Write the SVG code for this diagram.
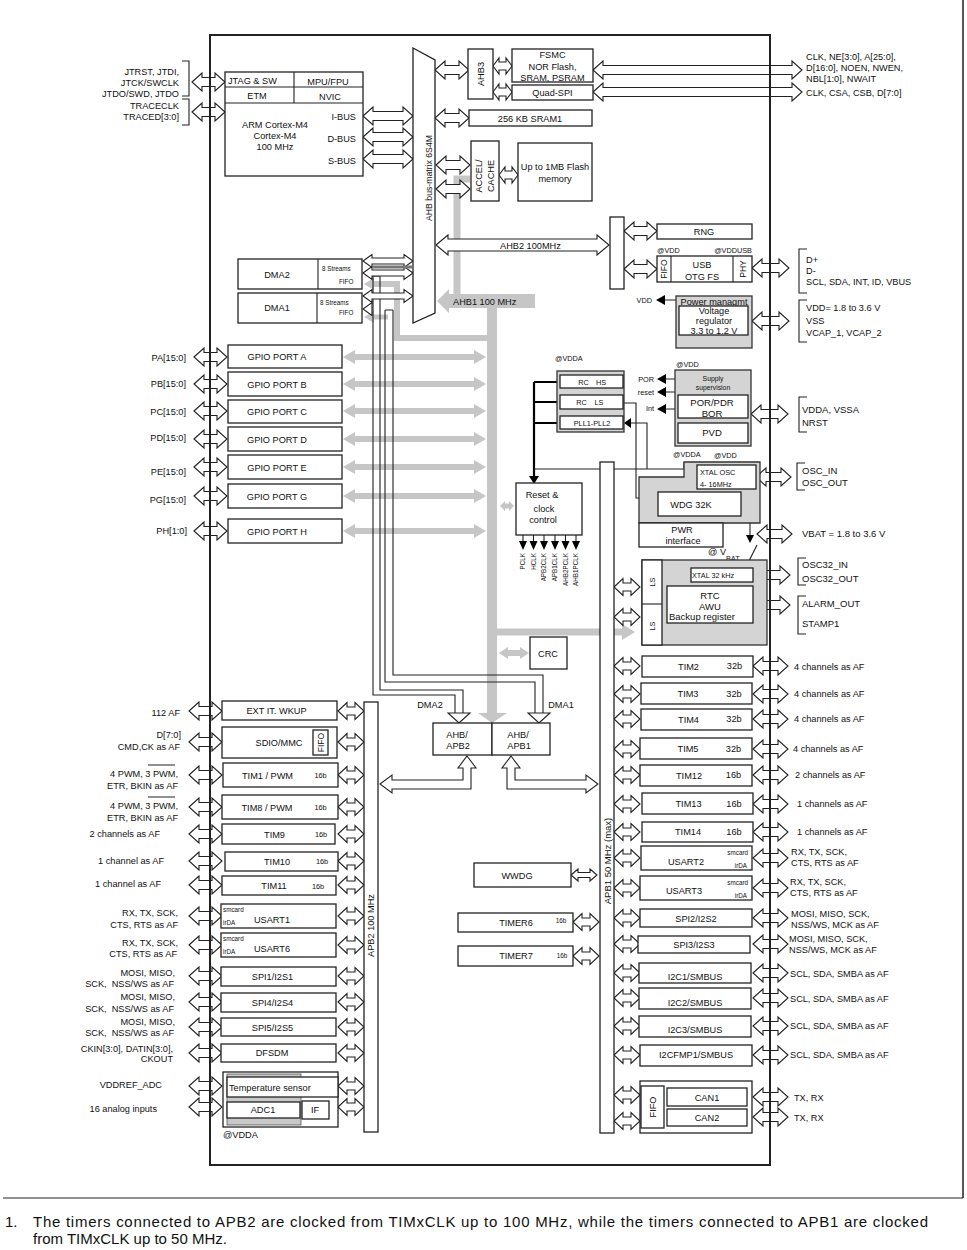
<svg xmlns="http://www.w3.org/2000/svg" width="967" height="1250" viewBox="0 0 967 1250">
<style>
text{font-family:"Liberation Sans",Arial,"DejaVu Sans",sans-serif;font-size:9.2px;fill:#111}
.c{text-anchor:middle}
.e{text-anchor:end}
.s{font-size:7.3px}
.xs{font-size:6.3px}
.f15{font-size:15px}
.b{fill:#fff;stroke:#222;stroke-width:1.3}
.g{fill:#d4d4d4;stroke:#333;stroke-width:1.3}
.da{fill:#fff;stroke:#222;stroke-width:1.1}
.gb{fill:#c6c6c6}
.gl{fill:none;stroke:#c6c6c6}
.ln{fill:none;stroke:#222;stroke-width:1.1}
.tk{fill:none;stroke:#000;stroke-width:2.2}
.ah{fill:#000}
</style>
<defs>
<path id="a33" d="M0 0L10-9V-4.5H23V-9L33 0L23 9V4.5H10V9Z"/>
<path id="a26" d="M0 0L9-8.5V-4H17V-8.5L26 0L17 8.5V4H9V8.5Z"/>
<path id="a35" d="M0 0L10-9V-4.5H25V-9L35 0L25 9V4.5H10V9Z"/>
<path id="a37" d="M0 0L10-9V-4.5H27V-9L37 0L27 9V4.5H10V9Z"/>
<path id="a50" d="M0 0L10-9V-4.5H40V-9L50 0L40 9V4.5H10V9Z"/>
<path id="a50s" d="M0 0L9-6.5V-3H41V-6.5L50 0L41 6.5V3H9V6.5Z"/>
<path id="a34" d="M0 0L10-9V-4.5H24V-9L34 0L24 9V4.5H10V9Z"/>
<path id="a19" d="M0 0L6-8V-4H13V-8L19 0L13 8V4H6V8Z"/>
<path id="a209" d="M0 0L10-9V-4.5H199V-9L209 0L199 9V4.5H10V9Z"/>
<path id="a26s" d="M0 0L7-6V-2.5H19V-6L26 0L19 6V2.5H7V6Z"/>
<path id="ag" d="M0 0L12-7V-3H131V-7L143 0L131 7V3H12V7Z"/>
<path id="ag30" d="M0 0L9-6V-3H21V-6L30 0L21 6V3H9V6Z"/>
<path id="ag14" d="M0 0L5-5V-2.5H9V-5L14 0L9 5V2.5H5V5Z"/>
</defs>
<rect width="967" height="1250" fill="#fff"/>

<g id="connectors">
<!-- gray buses -->
<path class="gb" d="M437 301L449 289V294H535V308H449V313Z"/>
<rect class="gb" x="487" y="306" width="10" height="407"/>
<path class="gb" d="M478 713H507L492 723Z"/>
<polyline class="gl" stroke-width="7" points="457,294 457,179 470,179"/>
<polyline class="gl" stroke-width="6" points="372,284 397,284 397,338 487,338"/>
<path class="gb" d="M364 284L374 278V290Z"/>
<polyline class="gl" stroke-width="5" points="372,317 388,317"/>
<path class="gb" d="M364 317L374 311V323Z"/>
<use href="#ag" class="gb" x="343" y="357"/>
<use href="#ag" class="gb" x="343" y="384"/>
<use href="#ag" class="gb" x="343" y="411"/>
<use href="#ag" class="gb" x="343" y="439"/>
<use href="#ag" class="gb" x="343" y="467"/>
<use href="#ag" class="gb" x="343" y="496"/>
<use href="#ag" class="gb" x="343" y="531"/>
<path class="gb" d="M497 628.5H622V624L635 632L622 640V635.5H497Z"/>
<use href="#ag30" class="gb" x="499" y="653"/>
<use href="#ag14" class="gb" x="500" y="506"/>

<!-- DMA paths to bridges -->
<path class="ln" d="M373 276V695H455V713M380 276V690H463V713M373 276H380"/>
<path class="da" d="M448 713H470L459 723Z"/>
<path class="ln" d="M385 310V682H535V713M393 310V675H543V713M385 310H393"/>
<path class="da" d="M528 713H550L539 723Z"/>

<!-- bridge to APB bus arrows -->
<path class="da" d="M467 756L476 768H471V789H392V793L380 784L392 775V780H463V768H458Z"/>
<path class="da" d="M511 756L520 768H515V780H586V775L598 784L586 793V789H507V768H502Z"/>

<!-- clock lines -->
<path class="tk" d="M534 382V477M534 382H560M534 402H560M534 423H560"/>
<path class="ah" d="M529 476H539L534 484Z"/>
<path class="ln" d="M534 469H684V463H697"/>
<path class="ln" d="M623 403H636V498H650"/>
<path class="ah" d="M650 493V503L658 498Z"/>
<path class="ln" d="M647 469V423H631"/>
<path class="ah" d="M631 418V428L624 423Z"/>
<path class="ln" d="M523 535V542M533.5 535V542M544 535V542M555 535V542M565.5 535V542M576 535V542"/>
<path class="ah" d="M519 541H527L523 550ZM529.5 541H537.5L533.5 550ZM540 541H548L544 550ZM551 541H559L555 550ZM561.5 541H569.5L565.5 550ZM572 541H580L576 550Z"/>
<path class="ln" d="M675 379H664M675 392H664M675 409H664M676 300H663"/>
<path class="ah" d="M657 379L666 374V384ZM657 392L666 387V397ZM657 409L666 404V414ZM656 300L665 295V305Z"/>
<path class="ln" stroke-width="1.8" d="M750 523V536"/>
<path class="ah" d="M746 535H754L750 543Z"/>
<path class="ln" d="M757 545L749 561V568"/>
<path class="ln" d="M691 575H677V580"/>
<path class="ah" d="M673 579H681L677 587Z"/>

<!-- hollow double arrows -->
<use href="#a33" class="da" x="192" y="82"/>
<use href="#a33" class="da" x="192" y="112"/>
<use href="#a50" class="da" x="363" y="116"/>
<use href="#a50" class="da" x="363" y="137"/>
<use href="#a50" class="da" x="363" y="159"/>
<use href="#a50s" class="da" x="363" y="261"/>
<use href="#a50s" class="da" x="363" y="273"/>
<rect x="372" y="265.5" width="40" height="3" fill="#777"/>
<use href="#a50s" class="da" x="363" y="296"/>
<path class="da" d="M363 309L372 302.5V315.5Z"/>
<use href="#a34" class="da" x="435" y="70"/>
<use href="#a19" class="da" x="493" y="66"/>
<use href="#a19" class="da" x="493" y="92"/>
<use href="#a209" class="da" x="593" y="70"/>
<use href="#a209" class="da" x="593" y="92"/>
<use href="#a34" class="da" x="435" y="118"/>
<use href="#a34" class="da" x="436" y="165"/>
<use href="#a34" class="da" x="436" y="189"/>
<use href="#a19" class="da" x="499" y="175"/>
<path class="da" d="M436 245L448 235V239H597V235L609 245L597 255V251H448V255Z"/>
<use href="#a33" class="da" x="624" y="231"/>
<use href="#a33" class="da" x="624" y="269"/>
<use href="#a37" class="da" x="752" y="268"/>
<use href="#a37" class="da" x="752" y="321"/>
<use href="#a37" class="da" x="751" y="414"/>
<use href="#a35" class="da" x="756" y="477"/>
<use href="#a35" class="da" x="757" y="534"/>
<use href="#a37" class="da" x="753" y="575"/>
<use href="#a37" class="da" x="753" y="605"/>
<use href="#a26" class="da" x="614" y="587"/>
<use href="#a26" class="da" x="614" y="617"/>
<!-- GPIO -->
<use href="#a33" class="da" x="194" y="357"/>
<use href="#a33" class="da" x="194" y="384"/>
<use href="#a33" class="da" x="194" y="411"/>
<use href="#a33" class="da" x="194" y="439"/>
<use href="#a33" class="da" x="194" y="467"/>
<use href="#a33" class="da" x="194" y="496"/>
<use href="#a33" class="da" x="194" y="531"/>
<!-- APB2 peripherals -->
<use href="#a33" class="da" x="189" y="711"/><use href="#a26" class="da" x="338" y="711"/>
<use href="#a33" class="da" x="189" y="742"/><use href="#a26" class="da" x="338" y="742"/>
<use href="#a33" class="da" x="189" y="775"/><use href="#a26" class="da" x="338" y="775"/>
<use href="#a33" class="da" x="189" y="807"/><use href="#a26" class="da" x="338" y="807"/>
<use href="#a33" class="da" x="189" y="834"/><use href="#a26" class="da" x="338" y="834"/>
<use href="#a33" class="da" x="189" y="861"/><use href="#a26" class="da" x="338" y="861"/>
<use href="#a33" class="da" x="189" y="885"/><use href="#a26" class="da" x="338" y="885"/>
<use href="#a33" class="da" x="189" y="916"/><use href="#a26" class="da" x="338" y="916"/>
<use href="#a33" class="da" x="189" y="945"/><use href="#a26" class="da" x="338" y="945"/>
<use href="#a33" class="da" x="189" y="976"/><use href="#a26" class="da" x="338" y="976"/>
<use href="#a33" class="da" x="189" y="1002"/><use href="#a26" class="da" x="338" y="1002"/>
<use href="#a33" class="da" x="189" y="1027"/><use href="#a26" class="da" x="338" y="1027"/>
<use href="#a33" class="da" x="189" y="1053"/><use href="#a26" class="da" x="338" y="1053"/>
<use href="#a33" class="da" x="189" y="1086"/><use href="#a26" class="da" x="338" y="1086"/>
<use href="#a33" class="da" x="189" y="1107"/><use href="#a26" class="da" x="338" y="1107"/>
<!-- APB1 peripherals -->
<use href="#a26" class="da" x="614" y="666"/><use href="#a35" class="da" x="753" y="666"/>
<use href="#a26" class="da" x="614" y="694"/><use href="#a35" class="da" x="753" y="694"/>
<use href="#a26" class="da" x="614" y="719"/><use href="#a35" class="da" x="753" y="719"/>
<use href="#a26" class="da" x="614" y="749"/><use href="#a35" class="da" x="753" y="749"/>
<use href="#a26" class="da" x="614" y="775"/><use href="#a35" class="da" x="753" y="775"/>
<use href="#a26" class="da" x="614" y="804"/><use href="#a35" class="da" x="753" y="804"/>
<use href="#a26" class="da" x="614" y="832"/><use href="#a35" class="da" x="753" y="832"/>
<use href="#a26" class="da" x="614" y="858"/><use href="#a35" class="da" x="753" y="858"/>
<use href="#a26" class="da" x="614" y="888"/><use href="#a35" class="da" x="753" y="888"/>
<use href="#a26" class="da" x="614" y="918"/><use href="#a35" class="da" x="753" y="918"/>
<use href="#a26" class="da" x="614" y="944"/><use href="#a35" class="da" x="753" y="944"/>
<use href="#a26" class="da" x="614" y="973"/><use href="#a35" class="da" x="753" y="973"/>
<use href="#a26" class="da" x="614" y="998"/><use href="#a35" class="da" x="753" y="998"/>
<use href="#a26" class="da" x="614" y="1026"/><use href="#a35" class="da" x="753" y="1026"/>
<use href="#a26" class="da" x="614" y="1055"/><use href="#a35" class="da" x="753" y="1055"/>
<use href="#a26" class="da" x="614" y="1095"/><use href="#a35" class="da" x="753" y="1097"/>
<use href="#a26" class="da" x="614" y="1121"/><use href="#a35" class="da" x="753" y="1117"/>
<use href="#a26s" class="da" x="571" y="875"/>
<use href="#a26" class="da" x="573" y="922"/>
<use href="#a26" class="da" x="573" y="956"/>
<!-- brackets -->
<path class="ln" d="M182 61H189V96H182M182 99H189V125H182M807 249H799V293H807M807 300H799V342H807M807 397H799V432H807M805 463H797V490H805M806 558H798V585H806M806 596H798V634H806"/>
<path class="ln" d="M148 765H175M148 797H175"/>
</g>

<g id="cpu">
<rect class="b" x="225" y="72" width="138" height="104"/>
<path class="ln" d="M225 87H363M225 103H363M294 72V103"/>
<text x="228" y="84">JTAG &amp; SW</text>
<text class="c" x="328" y="85">MPU/FPU</text>
<text class="c" x="257" y="99">ETM</text>
<text class="c" x="330" y="100">NVIC</text>
<text class="c" x="275" y="128">ARM Cortex-M4</text>
<text class="c" x="275" y="139">Cortex-M4</text>
<text class="c" x="275" y="150">100 MHz</text>
<text class="e" x="356" y="120">I-BUS</text>
<text class="e" x="356" y="142">D-BUS</text>
<text class="e" x="356" y="164">S-BUS</text>
</g>
<g id="jtag-pins">
<text class="e" x="179" y="75">JTRST, JTDI,</text>
<text class="e" x="179" y="86">JTCK/SWCLK</text>
<text class="e" x="179" y="97">JTDO/SWD, JTDO</text>
<text class="e" x="179" y="109">TRACECLK</text>
<text class="e" x="179" y="120">TRACED[3:0]</text>
</g>
<g id="bus-matrix">
<path class="b" d="M413 48L435 60V313L413 323Z"/>
<text class="c" x="431.5" y="178" style="font-size:8.7px" transform="rotate(-90 431.5 178)">AHB bus-matrix 6S4M</text>
</g>
<g id="ahb3">
<rect class="b" x="468" y="49" width="25" height="50"/>
<text class="c" x="484" y="74" transform="rotate(-90 484 74)">AHB3</text>
</g>
<g id="fsmc">
<rect class="b" x="512" y="49" width="81" height="33"/>
<text class="c" x="552.5" y="58">FSMC</text>
<text class="c" x="552.5" y="69.5">NOR Flash,</text>
<text class="c" x="552.5" y="80.5">SRAM, PSRAM</text>
</g>
<g id="quadspi">
<rect class="b" x="512" y="85" width="81" height="15"/>
<text class="c" x="552.5" y="95.5">Quad-SPI</text>
</g>
<g id="fsmc-pins">
<text x="806" y="59.5">CLK, NE[3:0], A[25:0],</text>
<text x="806" y="70.5">D[16:0], NOEN, NWEN,</text>
<text x="806" y="81.5">NBL[1:0], NWAIT</text>
<text x="806" y="95.5">CLK, CSA, CSB, D[7:0]</text>
</g>
<g id="sram1">
<rect class="b" x="469" y="110" width="123" height="16"/>
<text class="c" x="530" y="121.5">256 KB SRAM1</text>
</g>
<g id="cache">
<rect class="b" x="471" y="141" width="28" height="60"/>
<text class="c" x="482" y="176" transform="rotate(-90 482 176)">ACCEL/</text>
<text class="c" x="494" y="176" transform="rotate(-90 494 176)">CACHE</text>
</g>
<g id="flash">
<rect class="b" x="518" y="143" width="74" height="58"/>
<text class="c" x="555" y="169.5">Up to 1MB Flash</text>
<text class="c" x="555" y="181.5">memory</text>
</g>
<g id="ahb2-label">
<text x="500" y="248.5">AHB2 100MHz</text>
</g>
<g id="ahb1-label">
<text x="453" y="304.5" fill="#222">AHB1 100 MHz</text>
</g>
<g id="dma2">
<rect class="b" x="238" y="259" width="124" height="30"/>
<path class="ln" d="M318 259V289"/>
<text class="c" x="277" y="278">DMA2</text>
<text class="xs" x="322" y="270.5">8 Streams</text>
<text class="xs" x="339" y="283.5">FIFO</text>
</g>
<g id="dma1">
<rect class="b" x="238" y="293" width="124" height="30"/>
<path class="ln" d="M317 293V323"/>
<text class="c" x="277" y="311">DMA1</text>
<text class="xs" x="320" y="304.5">8 Streams</text>
<text class="xs" x="339" y="314.5">FIFO</text>
</g>
<g id="gpio">
<rect class="b" x="228" y="345" width="114" height="23"/><text class="c" x="277" y="360">GPIO PORT A</text>
<rect class="b" x="228" y="372" width="114" height="24"/><text class="c" x="277" y="387.5">GPIO PORT B</text>
<rect class="b" x="228" y="400" width="114" height="23"/><text class="c" x="277" y="415">GPIO PORT C</text>
<rect class="b" x="228" y="427" width="114" height="24"/><text class="c" x="277" y="442.5">GPIO PORT D</text>
<rect class="b" x="228" y="455" width="114" height="24"/><text class="c" x="277" y="470.5">GPIO PORT E</text>
<rect class="b" x="228" y="484" width="114" height="24"/><text class="c" x="277" y="499.5">GPIO PORT G</text>
<rect class="b" x="228" y="519" width="114" height="24"/><text class="c" x="277" y="534.5">GPIO PORT H</text>
<text class="e" x="186" y="360.5">PA[15:0]</text>
<text class="e" x="186" y="386.5">PB[15:0]</text>
<text class="e" x="186" y="414.5">PC[15:0]</text>
<text class="e" x="186" y="440.5">PD[15:0]</text>
<text class="e" x="186" y="474.5">PE[15:0]</text>
<text class="e" x="186" y="502.5">PG[15:0]</text>
<text class="e" x="187" y="533.5">PH[1:0]</text>
</g>
<g id="ahb2-bridge">
<rect class="b" x="610" y="217" width="14" height="72"/>
</g>
<g id="rng">
<rect class="b" x="657" y="224" width="95" height="15"/>
<text class="c" x="704" y="235">RNG</text>
</g>
<g id="usb">
<text class="s" x="657" y="253">@VDD</text>
<text class="s e" x="752" y="253">@VDDUSB</text>
<rect class="b" x="657" y="256" width="95" height="26"/>
<path class="ln" d="M671 256V282M733 256V282"/>
<text class="c" x="667" y="269" style="font-size:8.5px" transform="rotate(-90 667 269)">FIFO</text>
<text class="c" x="746" y="269" style="font-size:8.5px" transform="rotate(-90 746 269)">PHY</text>
<text class="c" x="702" y="268">USB</text>
<text class="c" x="702" y="280">OTG FS</text>
</g>
<g id="usb-pins">
<text x="806" y="262.5">D+</text>
<text x="806" y="273.5">D-</text>
<text x="806" y="284.5">SCL, SDA, INT, ID, VBUS</text>
</g>
<g id="power">
<rect class="g" x="676" y="296" width="76" height="52"/>
<text class="c" x="714" y="304.5">Power managmt</text>
<rect class="b" x="679" y="306" width="69" height="29"/>
<text class="c" x="714" y="314">Voltage</text>
<text class="c" x="714" y="324">regulator</text>
<text class="c" x="714" y="334">3.3 to 1.2 V</text>
<text class="s e" x="652" y="303">VDD</text>
</g>
<g id="power-pins">
<text x="806" y="310.5">VDD= 1.8 to 3.6 V</text>
<text x="806" y="323.5">VSS</text>
<text x="806" y="335.5">VCAP_1, VCAP_2</text>
</g>
<g id="clocks">
<text class="s" x="555" y="361">@VDDA</text>
<rect class="g" x="557" y="371" width="67" height="61"/>
<rect class="b" x="560" y="375" width="63" height="13"/>
<rect class="b" x="560" y="395" width="63" height="14"/>
<rect class="b" x="560" y="416" width="63" height="13"/>
<text class="s c" x="583.5" y="385">RC</text><text class="s c" x="601" y="385">HS</text>
<text class="s c" x="581.5" y="405">RC</text><text class="s c" x="599" y="405">LS</text>
<text class="s c" x="592" y="425.5">PLL1-PLL2</text>
</g>
<g id="rcc">
<rect class="b" x="516" y="483" width="66" height="52"/>
<text class="c" x="542" y="497.5">Reset &amp;</text>
<text class="c" x="544" y="512">clock</text>
<text class="c" x="543" y="523">control</text>
<text class="xs e" x="525.3" y="553" transform="rotate(-90 525.3 553)">PCLK</text>
<text class="xs e" x="535.8" y="553" transform="rotate(-90 535.8 553)">HCLK</text>
<text class="xs e" x="546.3" y="553" transform="rotate(-90 546.3 553)">APB2CLK</text>
<text class="xs e" x="557.3" y="553" transform="rotate(-90 557.3 553)">APB1CLK</text>
<text class="xs e" x="567.8" y="553" transform="rotate(-90 567.8 553)">AHB2PCLK</text>
<text class="xs e" x="578.3" y="553" transform="rotate(-90 578.3 553)">AHB1PCLK</text>
</g>
<g id="supply">
<text class="s" x="676" y="367">@VDD</text>
<rect class="g" x="675" y="370" width="76" height="76"/>
<text class="c" x="713" y="381" style="font-size:6.8px">Supply</text>
<text class="c" x="713" y="390" style="font-size:6.8px">supervision</text>
<rect class="b" x="678" y="395" width="70" height="23"/>
<rect class="b" x="678" y="423" width="70" height="20"/>
<text class="c" x="712" y="405.5" style="font-size:9.5px">POR/PDR</text>
<text class="c" x="712" y="416.5" style="font-size:9.5px">BOR</text>
<text class="c" x="712" y="436" style="font-size:9.5px">PVD</text>
<text class="s e" x="654" y="382">POR</text>
<text class="s e" x="654" y="394.5">reset</text>
<text class="s e" x="654" y="410.5">Int</text>
</g>
<g id="supply-pins">
<text x="802" y="412.5" style="font-size:9.5px">VDDA, VSSA</text>
<text x="802" y="425.5" style="font-size:9.5px">NRST</text>
</g>
<g id="pwr">
<text class="s" x="673" y="457">@VDDA</text>
<text class="s" x="714" y="458">@VDD</text>
<path class="g" d="M639 477H684V462H760V523H639Z"/>
<rect class="b" x="697" y="465" width="59" height="24"/>
<text class="s" x="700" y="475">XTAL OSC</text>
<text class="s" x="700" y="487">4- 16MHz</text>
<rect class="b" x="658" y="492" width="83" height="24"/>
<text class="c" x="691" y="507.5">WDG 32K</text>
<rect class="b" x="639" y="523" width="84" height="24"/>
<text class="c" x="682" y="532.5">PWR</text>
<text class="c" x="683" y="544">interface</text>
</g>
<g id="osc-pins">
<text x="802" y="473.5" style="font-size:9.5px">OSC_IN</text>
<text x="802" y="485.5" style="font-size:9.5px">OSC_OUT</text>
<text x="802" y="536.5" style="font-size:9.5px">VBAT = 1.8 to 3.6 V</text>
</g>
<g id="rtc">
<text x="708" y="555">@ V</text>
<text class="s" x="726" y="561">BAT</text>
<rect class="g" x="642" y="560" width="125" height="85"/>
<rect class="b" x="642" y="560" width="20" height="85"/>
<path class="ln" d="M642 604H662"/>
<text class="c s" x="654.5" y="582" transform="rotate(-90 654.5 582)">LS</text>
<text class="c s" x="654.5" y="626" transform="rotate(-90 654.5 626)">LS</text>
<rect class="b" x="691" y="568" width="62" height="14"/>
<text class="s" x="692" y="578">XTAL 32 kHz</text>
<rect class="b" x="667" y="586" width="86" height="37"/>
<text class="c" x="710" y="598.5" style="font-size:9.5px">RTC</text>
<text class="c" x="710" y="609.5" style="font-size:9.5px">AWU</text>
<text x="669" y="619.5" style="font-size:9.5px">Backup register</text>
</g>
<g id="rtc-pins">
<text x="802" y="567.5" style="font-size:9.5px">OSC32_IN</text>
<text x="802" y="581.5" style="font-size:9.5px">OSC32_OUT</text>
<text x="802" y="606.5" style="font-size:9.5px">ALARM_OUT</text>
<text x="802" y="626.5" style="font-size:9.5px">STAMP1</text>
</g>
<g id="crc">
<rect class="b" x="530" y="637" width="37" height="32"/>
<text class="c" x="548" y="656.5">CRC</text>
</g>
<g id="apb1-bus">
<rect class="b" x="600" y="462" width="14" height="671"/>
<text class="c" x="610.5" y="861" style="font-size:9.5px" transform="rotate(-90 610.5 861)">APB1 50 MHz (max)</text>
</g>
<g id="apb2-bus">
<rect class="b" x="364" y="702" width="14" height="430"/>
<text class="c" x="374.3" y="925.5" transform="rotate(-90 374.3 925.5)">APB2 100 MHz</text>
</g>
<g id="bridges">
<rect class="b" x="433" y="723" width="59" height="32"/>
<rect class="b" x="492" y="723" width="58" height="32"/>
<text class="c" x="457" y="737.5">AHB/</text>
<text class="c" x="458" y="748.5">APB2</text>
<text class="c" x="518" y="737.5">AHB/</text>
<text class="c" x="519" y="748.5">APB1</text>
<text class="c" x="430" y="707.5">DMA2</text>
<text class="c" x="561" y="707.5">DMA1</text>
</g>
<g id="wwdg">
<rect class="b" x="474" y="863" width="97" height="24"/>
<text class="c" x="517" y="878.5">WWDG</text>
</g>
<g id="timer6">
<rect class="b" x="458" y="913" width="115" height="19"/>
<text class="c" x="516" y="925.5">TIMER6</text>
<text class="xs c" x="561" y="923">16b</text>
</g>
<g id="timer7">
<rect class="b" x="458" y="946" width="115" height="20"/>
<text class="c" x="516" y="959">TIMER7</text>
<text class="xs c" x="562" y="958">16b</text>
</g>
<g id="apb1-periph">
<rect class="b" x="642" y="656" width="111" height="21"/><text class="c" x="688.5" y="669.5">TIM2</text><text class="c" x="734.5" y="669">32b</text>
<rect class="b" x="641" y="683" width="111" height="21"/><text class="c" x="688" y="697">TIM3</text><text class="c" x="734" y="696.5">32b</text>
<rect class="b" x="641" y="709" width="111" height="21"/><text class="c" x="688.5" y="723">TIM4</text><text class="c" x="734" y="722">32b</text>
<rect class="b" x="640" y="738" width="112" height="21"/><text class="c" x="688" y="752">TIM5</text><text class="c" x="733.5" y="751.5">32b</text>
<rect class="b" x="640" y="765" width="112" height="21"/><text class="c" x="689" y="779">TIM12</text><text class="c" x="733.5" y="778">16b</text>
<rect class="b" x="642" y="793" width="111" height="21"/><text class="c" x="688.5" y="807">TIM13</text><text class="c" x="734" y="806.5">16b</text>
<rect class="b" x="642" y="822" width="111" height="20"/><text class="c" x="688" y="835">TIM14</text><text class="c" x="734" y="834.5">16b</text>
<rect class="b" x="641" y="846" width="111" height="24"/><text class="c" x="686" y="865">USART2</text><text class="xs e" x="748" y="854.5">smcard</text><text class="xs e" x="747" y="868">irDA</text>
<rect class="b" x="640" y="876" width="112" height="24"/><text class="c" x="684" y="894">USART3</text><text class="xs e" x="748" y="884.5">smcard</text><text class="xs e" x="747" y="898">irDA</text>
<rect class="b" x="640" y="909" width="112" height="18"/><text class="c" x="696" y="921.5">SPI2/I2S2</text>
<rect class="b" x="638" y="936" width="112" height="17"/><text class="c" x="694" y="948">SPI3/I2S3</text>
<rect class="b" x="639" y="963" width="112" height="20"/><text class="c" x="695" y="979.5">I2C1/SMBUS</text>
<rect class="b" x="639" y="988" width="112" height="21"/><text class="c" x="695" y="1005.5">I2C2/SMBUS</text>
<rect class="b" x="639" y="1016" width="112" height="21"/><text class="c" x="695" y="1032.5">I2C3/SMBUS</text>
<rect class="b" x="640" y="1045" width="112" height="21"/><text class="c" x="696" y="1057.5">I2CFMP1/SMBUS</text>
</g>
<g id="can">
<rect class="b" x="640" y="1081" width="112" height="52"/>
<rect class="b" x="641" y="1086" width="23" height="42"/>
<text class="c" x="655.5" y="1107" transform="rotate(-90 655.5 1107)">FIFO</text>
<rect class="b" x="667" y="1088" width="80" height="18"/>
<text class="c" x="707" y="1100.5">CAN1</text>
<rect class="b" x="667" y="1109" width="80" height="17"/>
<text class="c" x="707" y="1121">CAN2</text>
</g>
<g id="apb1-pins">
<text x="794" y="669.5">4 channels as AF</text>
<text x="794" y="696.5">4 channels as AF</text>
<text x="794" y="722">4 channels as AF</text>
<text x="793" y="752">4 channels as AF</text>
<text x="795" y="778">2 channels as AF</text>
<text x="797" y="807">1 channels as AF</text>
<text x="797" y="834.5">1 channels as AF</text>
<text x="791" y="854.5">RX, TX, SCK,</text>
<text x="791" y="865.5">CTS, RTS as AF</text>
<text x="790" y="884.5">RX, TX, SCK,</text>
<text x="790" y="895.5">CTS, RTS as AF</text>
<text x="791" y="916.5">MOSI, MISO, SCK,</text>
<text x="791" y="927.5">NSS/WS, MCK as AF</text>
<text x="789" y="941.5">MOSI, MISO, SCK,</text>
<text x="789" y="952.5">NSS/WS, MCK as AF</text>
<text x="790" y="977">SCL, SDA, SMBA as AF</text>
<text x="790" y="1002">SCL, SDA, SMBA as AF</text>
<text x="790" y="1029">SCL, SDA, SMBA as AF</text>
<text x="790" y="1058">SCL, SDA, SMBA as AF</text>
<text x="794" y="1100.5">TX, RX</text>
<text x="794" y="1120.5">TX, RX</text>
</g>
<g id="apb2-periph">
<rect class="b" x="222" y="701" width="115" height="19"/><text class="c" x="276.5" y="714">EXT IT. WKUP</text>
<rect class="b" x="222" y="727" width="115" height="31"/><text class="c" x="279" y="745.5">SDIO/MMC</text>
<rect class="b" x="313" y="730" width="15" height="25"/><text class="c" x="323.5" y="742.5" style="font-size:8.5px" transform="rotate(-90 323.5 742.5)">FIFO</text>
<rect class="b" x="223" y="763" width="115" height="24"/><text class="c" x="267.5" y="778.5">TIM1 / PWM</text><text class="s c" x="320.5" y="777.5">16b</text>
<rect class="b" x="222" y="795" width="116" height="24"/><text class="c" x="267" y="810.5">TIM8 / PWM</text><text class="s c" x="320.5" y="809.5">16b</text>
<rect class="b" x="222" y="824" width="113" height="20"/><text class="c" x="274.5" y="837.5">TIM9</text><text class="s c" x="321" y="836.5">16b</text>
<rect class="b" x="225" y="852" width="113" height="19"/><text class="c" x="277" y="865">TIM10</text><text class="s c" x="322" y="864">16b</text>
<rect class="b" x="222" y="876" width="114" height="19"/><text class="c" x="274" y="889">TIM11</text><text class="s c" x="318" y="888.5">16b</text>
<rect class="b" x="221" y="904" width="115" height="24"/><text class="c" x="272" y="922.5">USART1</text><text class="xs" x="223" y="911.5">smcard</text><text class="xs" x="223" y="924.5">irDA</text>
<rect class="b" x="221" y="933" width="115" height="24"/><text class="c" x="272" y="951.5">USART6</text><text class="xs" x="223" y="940.5">smcard</text><text class="xs" x="223" y="954">irDA</text>
<rect class="b" x="221" y="967" width="115" height="19"/><text class="c" x="272.5" y="979.5">SPI1/I2S1</text>
<rect class="b" x="221" y="993" width="115" height="19"/><text class="c" x="272.5" y="1005.5">SPI4/I2S4</text>
<rect class="b" x="221" y="1018" width="115" height="18"/><text class="c" x="272.5" y="1030.5">SPI5/I2S5</text>
<rect class="b" x="221" y="1044" width="115" height="18"/><text class="c" x="272" y="1055.5">DFSDM</text>
</g>
<g id="adc">
<rect class="b" x="223" y="1072" width="115" height="55"/>
<rect x="227" y="1074" width="74" height="51" fill="#c8c8c8" stroke="#555" stroke-width="0.8"/>
<rect class="b" x="227" y="1077" width="111" height="20"/>
<text x="229" y="1090.5">Temperature sensor</text>
<rect class="b" x="227" y="1102" width="73" height="16"/>
<text class="c" x="263" y="1112.5">ADC1</text>
<rect class="b" x="302" y="1101" width="27" height="18"/>
<text class="c" x="315" y="1113">IF</text>
<text x="223" y="1137.5">@VDDA</text>
</g>
<g id="apb2-pins">
<text class="e" x="180" y="716">112 AF</text>
<text class="e" x="181" y="737.5">D[7:0]</text>
<text class="e" x="180" y="749.5">CMD,CK as AF</text>
<text class="e" x="178" y="776.5">4 PWM, 3 PWM,</text>
<text class="e" x="178" y="788.5">ETR, BKIN as AF</text>
<text class="e" x="178" y="808.5">4 PWM, 3 PWM,</text>
<text class="e" x="178" y="820.5">ETR, BKIN as AF</text>
<text class="e" x="160" y="836.5">2 channels as AF</text>
<text class="e" x="164" y="863.5">1 channel as AF</text>
<text class="e" x="161" y="886.5">1 channel as AF</text>
<text class="e" x="178" y="915.5">RX, TX, SCK,</text>
<text class="e" x="178" y="927.5">CTS, RTS as AF</text>
<text class="e" x="178" y="945.5">RX, TX, SCK,</text>
<text class="e" x="177" y="956.5">CTS, RTS as AF</text>
<text class="e" x="175" y="975.5">MOSI, MISO,</text>
<text class="e" x="174" y="986.5">SCK,&#160; NSS/WS as AF</text>
<text class="e" x="175" y="999.5">MOSI, MISO,</text>
<text class="e" x="174" y="1011.5">SCK,&#160; NSS/WS as AF</text>
<text class="e" x="175" y="1024.5">MOSI, MISO,</text>
<text class="e" x="174" y="1035.5">SCK,&#160; NSS/WS as AF</text>
<text class="e" x="173" y="1051.5">CKIN[3:0], DATIN[3:0],</text>
<text class="e" x="173" y="1061.5">CKOUT</text>
<text class="e" x="162" y="1087.5">VDDREF_ADC</text>
<text class="e" x="157" y="1111.5">16 analog inputs</text>
</g>
<g id="frame">
<rect x="210" y="35" width="560" height="1130" fill="none" stroke="#222" stroke-width="2"/>
<line x1="963" y1="0" x2="963" y2="1198" stroke="#222" stroke-width="1.5"/>
<line x1="3" y1="1198" x2="963" y2="1198" stroke="#222" stroke-width="1.2"/>
</g>
<g id="footnote">
<text class="f15" x="5" y="1227">1.</text>
<text class="f15" x="33" y="1227" textLength="895" lengthAdjust="spacing">The timers connected to APB2 are clocked from TIMxCLK up to 100 MHz, while the timers connected to APB1 are clocked</text>
<text class="f15" x="33" y="1244">from TIMxCLK up to 50 MHz.</text>
</g>
</svg>
